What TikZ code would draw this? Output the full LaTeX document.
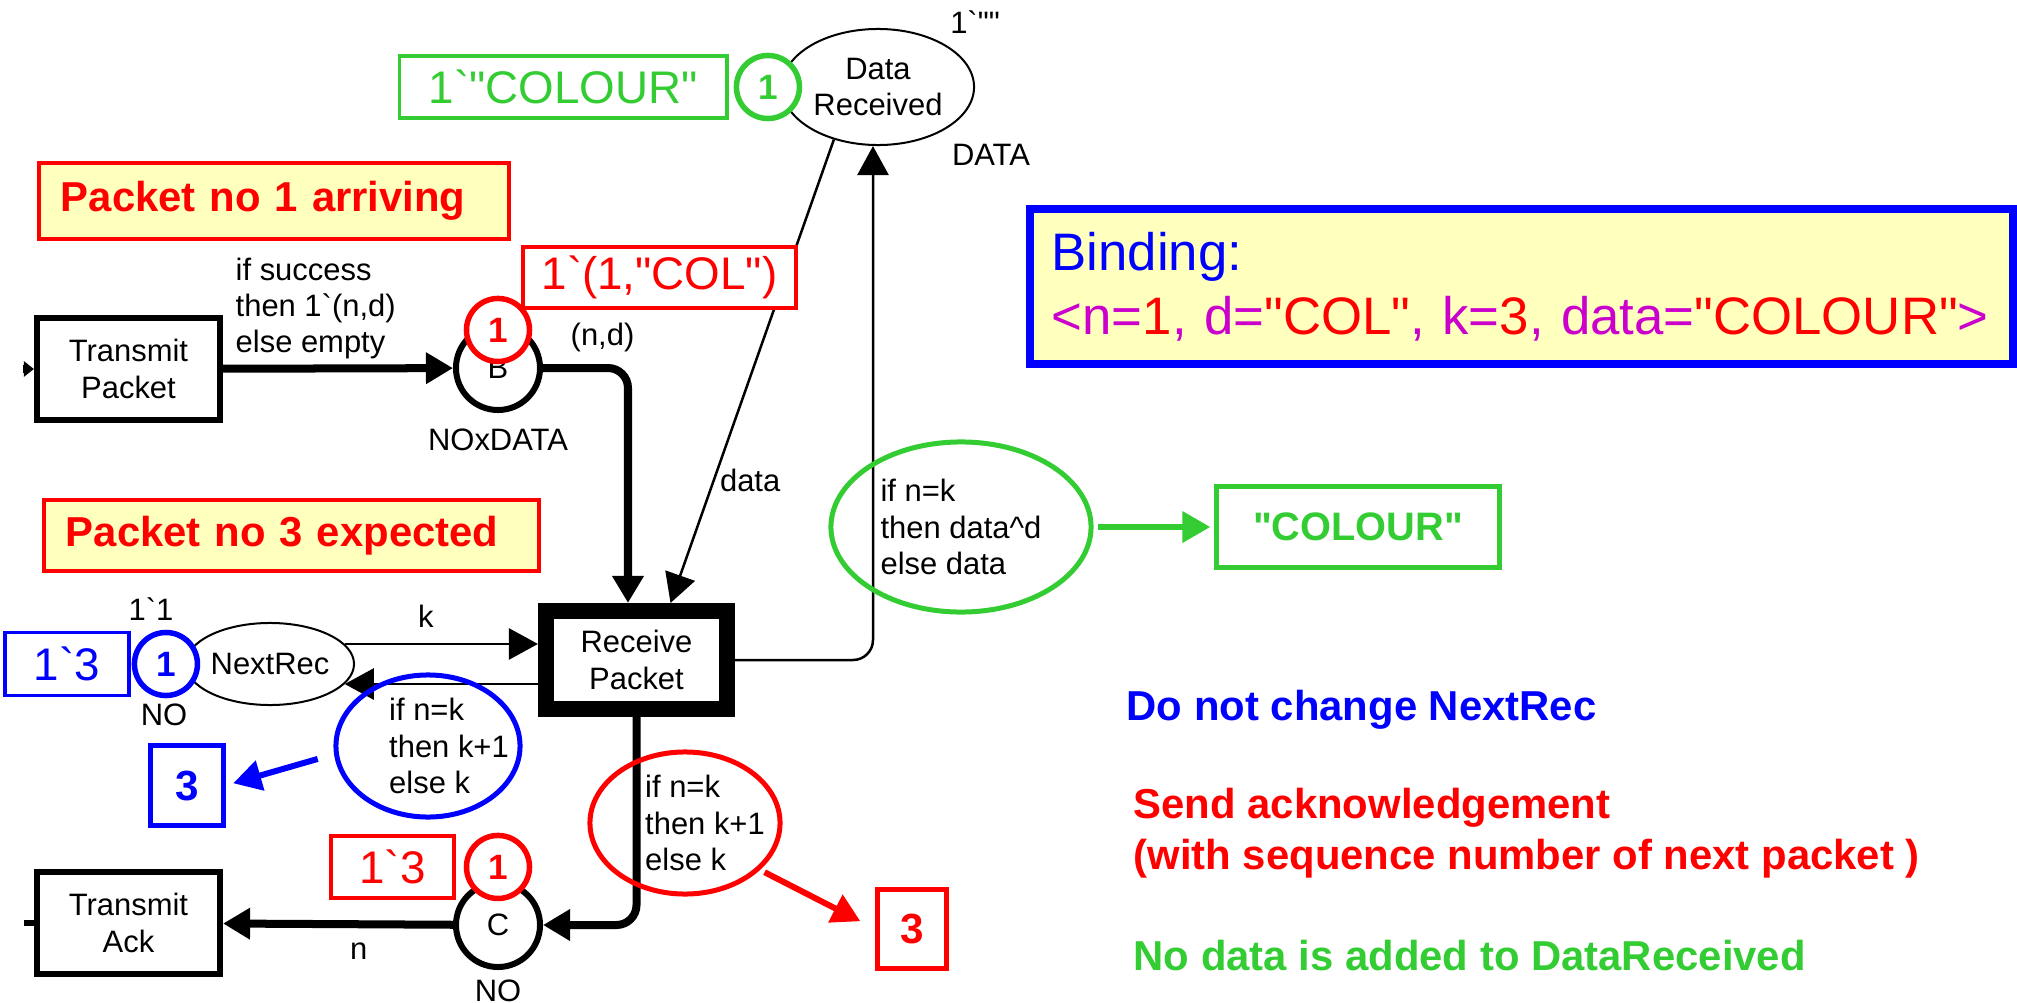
\documentclass[tikz,border=0pt]{standalone}
\usepackage{fontspec}
\setmainfont{Liberation Sans}[Ligatures=TeXOff]
\usepackage{xcolor}
\usepackage{tikz}
\usetikzlibrary{positioning}
\usetikzlibrary{shapes.geometric,arrows.meta,positioning}

\definecolor{cpnred}{RGB}{255,0,0}
\definecolor{cpnblue}{RGB}{0,0,255}
\definecolor{cpngreen}{RGB}{51,204,51}
\definecolor{cpnmagenta}{RGB}{204,0,204}
\definecolor{memofill}{RGB}{255,255,190}

\newcommand{\netfont}{\fontsize{8.8}{10.3}\selectfont}
\newcommand{\tagfont}{\fontsize{13}{15}\selectfont}
\newcommand{\tokfont}{\fontsize{10}{12}\selectfont\bfseries}
\newcommand{\memofont}{\fontsize{11.9}{14.7}\selectfont\bfseries}
\newcommand{\bindfont}{\fontsize{15}{18.1}\selectfont}
\newcommand{\mg}[1]{\textcolor{cpnmagenta}{#1}}
\newcommand{\rd}[1]{\textcolor{cpnred}{#1}}

\tikzset{every node/.style={font=\netfont}}

\begin{document}
\begin{tikzpicture}[x=0.01cm, y=-0.01cm, node distance=0.1cm,
  every node/.style={font=\netfont, inner sep=0pt, align=center},
  place/.style={draw, circle, line width=0.06cm, minimum size=0.84cm},
  thinplace/.style={draw, ellipse, line width=0.02cm},
  trans/.style={draw, rectangle, line width=0.06cm, minimum width=1.83cm, minimum height=1.02cm},
  token/.style={draw=#1, text=#1, fill=white, circle, line width=0.055cm, minimum size=0.63cm, font=\tokfont},
  tagbox/.style={draw=#1, text=#1, fill=white, rectangle, line width=0.035cm, font=\tagfont},
  guard/.style={draw=#1, ellipse, line width=0.05cm},
  guardtext/.style={align=left, font=\netfont},
  result/.style={draw=#1, text=#1, rectangle, line width=0.05cm},
  memo/.style={draw=cpnred, fill=memofill, text=cpnred, line width=0.04cm, font=\memofont, align=left, inner xsep=0.22cm},
  heavyarc/.style={line width=0.08cm, -{Triangle[length=0.27cm,width=0.3cm]}},
  lightarc/.style={line width=0.025cm, -{Triangle[length=0.29cm,width=0.31cm]}},
  pointer/.style={draw=#1, line width=0.06cm, -{Triangle[length=0.28cm,width=0.3cm]}}]

\useasboundingbox (0,0) rectangle (2017,1003);

\node[trans] (tpack) at (128.5,369) {Transmit\\Packet};
\node[place] (B) at (498,368) {B};
\node[trans, line width=0.16cm, minimum width=1.81cm, minimum height=0.98cm] (recv) at (636.5,660) {Receive\\Packet};
\node[thinplace, minimum width=1.92cm, minimum height=1.16cm] (datarec) at (878,87) {Data\\Received};
\node[thinplace, minimum width=1.68cm, minimum height=0.82cm] (nextrec) at (270,664) {NextRec};
\node[place] (C) at (498,925) {C};
\node[trans] (tack) at (128.5,923) {Transmit\\Ack};

\node[below=0.15cm of B] (bset) {NOxDATA};
\node[below=0.09cm of C] (cset) {NO};
\node (nset) at (164,715) {NO};
\node (ninit) at (151,609) {1`1};
\node (dinit) at (975,22) {1`""};
\node (dset) at (991,155) {DATA};
\node[align=left, anchor=north west] (sendexpr) at (235,257) {if success\\then 1`(n,d)\\else empty};

\coordinate (tpin) at (23,369);
\coordinate (tackout) at (24,923);

\draw[heavyarc, -{Triangle[length=0.1cm,width=0.15cm]}] (tpin) -- (tpack.west);
\draw[heavyarc] (tpack) -- (B);
\draw[heavyarc, rounded corners=0.2cm] (B.east) -| ([xshift=-0.085cm]recv.north) node[pos=0.35, above=0.12cm] (nd) {(n,d)};
\draw[lightarc] (datarec.230) -- ([xshift=0.34cm]recv.north) node[pos=0.735, right=0.05cm] (dlbl) {data};
\draw[lightarc, rounded corners=0.2cm] (recv.east) -| ([xshift=-0.05cm]datarec.south);
\draw[lightarc] (nextrec.15) -- (nextrec.15 -| recv.west) node[pos=0.42, above=0.15cm] (klbl) {k};
\draw[lightarc] (nextrec.-15 -| recv.west) -- (nextrec.-15);
\draw[heavyarc, rounded corners=0.2cm] (recv.south) |- (C.east);
\draw[heavyarc] (C) -- (tack) node[pos=0.41, below=0.15cm] (nlbl) {n};
\draw[line width=0.06cm] (tack.west) -- (tackout);

\node[tagbox=cpnred, minimum width=2.73cm, minimum height=0.61cm] (btag) at (659.5,277.5) {1`(1,"COL")};

\node[token=cpnred] (btok) at ([yshift=-0.07cm]B.north) {1};
\node[token=cpnred] (ctok) at ([yshift=0.13cm]C.north) {1};
\node[token=cpngreen] (dtok) at ([xshift=-0.13cm]datarec.west) {1};
\node[token=cpnblue] (ntok) at ([xshift=-0.19cm]nextrec.west) {1};

\node[tagbox=cpngreen, minimum width=3.27cm, minimum height=0.62cm, left=0.05cm of dtok] (dtag) {1`"COLOUR"};
\node[tagbox=cpnblue, minimum width=1.24cm, minimum height=0.63cm, left=0.01cm of ntok] (ntag) {1`3};
\node[tagbox=cpnred, minimum width=1.23cm, minimum height=0.62cm, left=0.08cm of ctok] (ctag) {1`3};

\node[guard=cpngreen, minimum width=2.6cm, minimum height=1.7cm, align=left] (dguard) at (961,527) {if n=k\\then data\textasciicircum d\\else data};
\node[guard=cpnblue, minimum width=1.84cm, minimum height=1.42cm, label={[guardtext, xshift=0.21cm]center:if n=k\\then k+1\\else k}] (nguard) at (428,746) {};
\node[guard=cpnred, minimum width=1.9cm, minimum height=1.42cm, label={[guardtext, xshift=0.2cm]center:if n=k\\then k+1\\else k}] (cguard) at (685,823) {};

\node[result=cpnblue, minimum width=0.72cm, minimum height=0.8cm, font=\fontsize{12}{14}\selectfont\bfseries] (nres) at (187,785.5) {3};
\node[result=cpnred, minimum width=0.68cm, minimum height=0.78cm, font=\fontsize{12}{14}\selectfont\bfseries] (cres) at (912,929) {3};
\node[result=cpngreen, minimum width=2.82cm, minimum height=0.8cm, font=\fontsize{11.3}{13}\selectfont\bfseries] (dres) at (1358,527) {"COLOUR"};

\draw[pointer=cpnblue, shorten <=0.17cm, shorten >=0.08cm] (nguard.185) -- (nres.east);
\draw[pointer=cpnred, shorten <=0.05cm, shorten >=0.17cm] (cguard.-32) -- (cres.west);
\draw[pointer=cpngreen, line width=0.065cm, shorten <=0.04cm, shorten >=0.04cm] (dguard) -- (dres);

\node[memo, text width=4.26cm, minimum height=0.76cm] (arrmemo) at (274,201) {Packet no 1 arriving};
\node[memo, text width=4.51cm, minimum height=0.71cm] (expmemo) at (291.5,535.5) {Packet no 3 expected};

\node[draw=cpnblue, fill=memofill, line width=0.08cm, font=\bindfont, align=left, text width=9.39cm, inner xsep=0.22cm, minimum height=1.55cm] (binding) at (1521.5,286.5) {\textcolor{cpnblue}{Binding:}\\\mg{<n=}\rd{1}\mg{, d=}\rd{"COL"}\mg{, k=}\rd{3}\mg{, data=}\rd{"COLOUR"}\mg{>}};

\node[anchor=base west, font=\memofont, text=cpnblue] (keepnote) at (1126,720) {Do not change NextRec};
\node[anchor=north west, font=\memofont, text=cpnred, align=left] (acknote) at (1133,787) {Send acknowledgement\\(with sequence number of next packet )};
\node[anchor=base west, font=\memofont, text=cpngreen] (datanote) at (1133,970) {No data is added to DataReceived};

\end{tikzpicture}
\end{document}
